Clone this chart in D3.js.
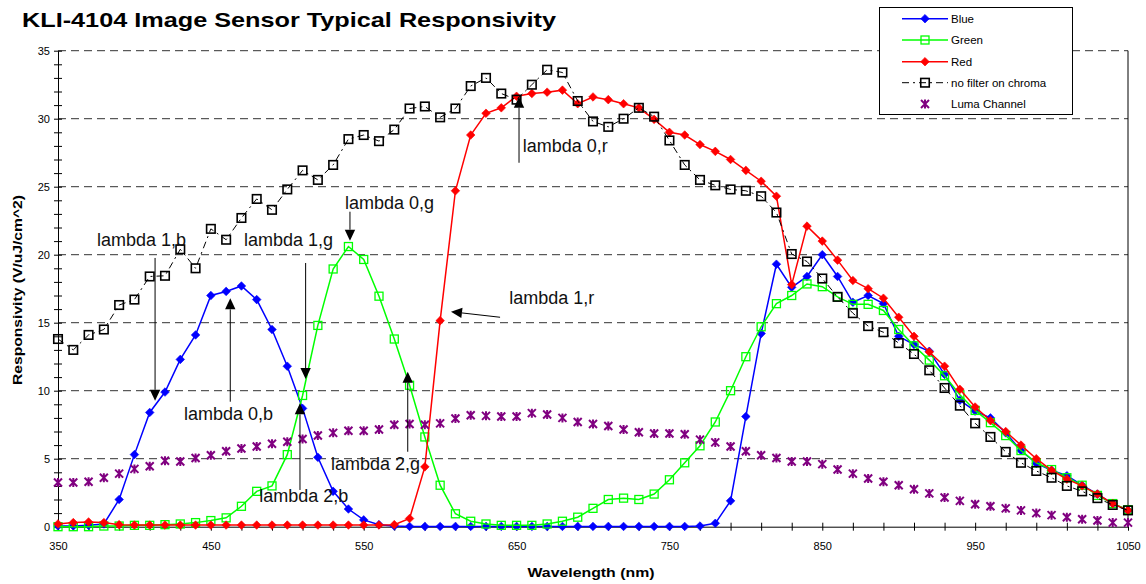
<!DOCTYPE html>
<html><head><meta charset="utf-8">
<script src="https://cdn.jsdelivr.net/npm/d3@7"></script>
<style>
html,body{margin:0;padding:0;background:#fff;}
svg{display:block;font-family:"Liberation Sans",Arial,sans-serif;}
</style></head>
<body><svg id="c" width="1146" height="584"></svg>
<script>
const wavelengths = d3.range(350, 1051, 10);
const blue = [0.05,0.05,0.1,0.2,2.0,5.3,8.4,9.9,12.3,14.1,17.0,17.3,17.7,16.7,14.5,11.8,8.7,5.1,2.6,1.3,0.5,0.15,0.05,0.02,
  0.02,0.02,0.02,0.02,0.02,0.02,0.02,0.02,0.02,0.02,0.02,0.02,0.02,0.02,0.02,0.02,0.02,0.02,
  0.05,0.25,1.9,8.1,14.2,19.3,17.6,18.4,20.0,18.4,16.5,17.0,16.4,14.0,13.4,12.9,11.2,9.3,8.5,8.0,6.9,5.6,4.65,4.15,3.75,3.05,2.4,1.7,1.2];
const green = [0,0,0,0.05,0.05,0.1,0.1,0.15,0.2,0.3,0.45,0.65,1.5,2.6,3.0,5.3,9.65,14.8,18.95,20.6,19.65,16.95,13.8,10.4,6.6,3.05,0.95,0.4,0.2,0.1,0.1,0.1,0.2,0.4,0.7,1.35,2.0,2.1,2.0,2.4,3.45,4.7,5.95,7.7,10.0,12.5,14.7,16.4,17.0,17.85,17.65,16.9,16.35,16.35,15.9,14.5,13.3,12.25,11.1,9.7,8.55,7.65,6.7,5.6,4.7,4.2,3.6,3.05,2.3,1.7,1.25];
const red = [0.2,0.3,0.35,0.3,0.15,0.12,
  0.12,0.12,0.12,0.12,0.12,0.12,0.12,0.12,0.12,0.12,0.12,0.12,0.12,0.12,0.12,0.12,
  0.15,0.6,4.4,15.15,24.7,28.8,30.4,30.8,31.65,31.85,31.95,32.1,31.1,31.6,31.4,31.1,30.8,29.95,29.0,28.8,28.1,27.6,27.0,26.2,25.4,24.3,17.8,22.1,21.0,19.6,18.1,17.5,16.8,15.4,14.0,12.85,11.8,10.1,8.8,7.8,7.0,6.0,5.0,4.15,3.5,3.0,2.4,1.7,1.2];
const noFilter = [13.8,13.0,14.1,14.5,16.3,16.7,18.4,18.45,20.4,19.0,21.9,21.1,22.7,24.1,23.3,24.8,26.2,25.5,26.6,28.5,28.8,28.35,29.2,30.75,30.9,30.1,30.75,32.4,33.0,31.85,31.4,32.5,33.6,33.4,31.3,29.8,29.4,30.0,30.8,30.15,28.4,26.6,25.5,25.1,24.8,24.7,24.3,23.1,20.05,19.5,18.25,16.9,15.7,14.75,14.3,13.5,12.7,11.5,10.2,8.9,7.6,6.6,5.5,4.7,4.1,3.6,3.0,2.6,2.1,1.6,1.2];
const luma = [3.25,3.25,3.3,3.6,3.9,4.25,4.45,4.85,4.8,5.05,5.25,5.55,5.75,5.9,6.1,6.25,6.45,6.7,6.9,7.05,7.05,7.15,7.5,7.55,7.5,7.6,7.95,8.2,8.15,8.1,8.1,8.35,8.25,8.0,7.7,7.55,7.4,7.15,6.95,6.85,6.85,6.8,6.4,6.2,5.9,5.55,5.25,5.05,4.8,4.8,4.6,4.2,3.9,3.55,3.3,3.05,2.75,2.45,2.15,1.9,1.65,1.5,1.35,1.2,1.0,0.85,0.7,0.55,0.45,0.3,0.3];
const xTickLabels = [350,450,550,650,750,850,950,1050];
const yTickLabels = [0,5,10,15,20,25,30,35];
const seriesNames = ["Blue","Green","Red","no filter on chroma","Luma Channel"];
// annotation labels: [text, wavelength, value(baseline)]
const annoLabels = [["lambda 1,b",375.5,20.64],["lambda 1,g",471.7,20.64],["lambda 0,g",537.8,23.35],["lambda 0,r",654,27.57],
  ["lambda 1,r",645.2,16.38],["lambda 0,b",432.4,7.85],["lambda 2,b",481.7,1.82],["lambda 2,g",528.6,4.17]];
// arrows: [fromWl, fromVal, tipWl, tipVal]
const annoArrows = [[413.5,19.76,413.5,9.26],[512.0,19.39,512.0,10.86],[462.7,9.19,462.7,16.79],[508.3,2.7,508.3,9.07],
  [541.0,23.16,541.0,21.03],[651.6,26.76,651.6,31.62],[578.8,5.51,578.8,11.40],[639.2,15.4,607.1,15.81]];

const svg = d3.select("#c");
const x = d3.scaleLinear().domain([350,1050]).range([58,1128]);
const y = d3.scaleLinear().domain([0,35]).range([526.7,50.7]);

// gridlines
svg.append("g").selectAll("line").data(yTickLabels.filter(d=>d>0)).join("line")
  .attr("x1",x(350)).attr("x2",x(1050)).attr("y1",d=>y(d)).attr("y2",d=>y(d))
  .attr("stroke","#333").attr("stroke-width",1).attr("stroke-dasharray","8,5");
// right border
svg.append("line").attr("x1",x(1050)).attr("x2",x(1050)).attr("y1",y(35)).attr("y2",y(0)).attr("stroke","#000");

// axes
const yAxis = d3.axisLeft(y).tickValues(d3.range(0,36,1)).tickSize(0)
  .tickFormat(d=> d%5===0 ? d : "");
const gy = svg.append("g").attr("transform",`translate(${x(350)},0)`).call(yAxis);
gy.select(".domain").attr("stroke","#000");
gy.selectAll(".tick line").attr("x1",-4).attr("x2",4).attr("stroke","#000");
gy.selectAll(".tick text").attr("x",-8).attr("font-size",11).attr("font-family","Liberation Sans, Arial").attr("fill","#000");

const xAxis = d3.axisBottom(x).tickValues(d3.range(350,1051,20)).tickSize(0)
  .tickFormat(d=> xTickLabels.includes(d) ? d : "");
const gx = svg.append("g").attr("transform",`translate(0,${y(0)})`).call(xAxis);
gx.select(".domain").attr("stroke","#000");
gx.selectAll(".tick line").attr("y1",-4).attr("y2",4).attr("stroke","#000");
gx.selectAll(".tick text").attr("y",16).attr("font-size",11).attr("font-family","Liberation Sans, Arial").attr("fill","#000");

// titles
svg.append("text").attr("x",22).attr("y",27).attr("font-size",21).attr("font-weight","bold")
  .attr("textLength",534).attr("lengthAdjust","spacingAndGlyphs").text("KLI-4104 Image Sensor Typical Responsivity");
svg.append("text").attr("transform","translate(22,290) rotate(-90)").attr("text-anchor","middle")
  .attr("font-size",13.5).attr("font-weight","bold").attr("textLength",190).attr("lengthAdjust","spacingAndGlyphs").text("Responsivity (V/uJ/cm^2)");
svg.append("text").attr("x",591).attr("y",577).attr("text-anchor","middle")
  .attr("font-size",13.5).attr("font-weight","bold").attr("textLength",127).attr("lengthAdjust","spacingAndGlyphs").text("Wavelength (nm)");

// marker drawing
function diamond(g,cx,cy,col){ const s=4.3;
  g.append("path").attr("d",`M${cx},${cy-s}L${cx+s},${cy}L${cx},${cy+s}L${cx-s},${cy}Z`).attr("fill",col).attr("stroke",col).attr("stroke-width",0.6);}
function square(g,cx,cy,col,sz,sw){ g.append("rect").attr("x",cx-sz/2).attr("y",cy-sz/2).attr("width",sz).attr("height",sz)
  .attr("fill","none").attr("stroke",col).attr("stroke-width",sw);}
function star(g,cx,cy,col){ const s=4;
  g.append("path").attr("d",`M${cx-s},${cy-s}L${cx+s},${cy+s}M${cx-s},${cy+s}L${cx+s},${cy-s}M${cx},${cy-s-0.5}L${cx},${cy+s+0.5}`)
   .attr("stroke",col).attr("stroke-width",2).attr("fill","none");}

const line = d3.line().x(d=>x(d[0])).y(d=>y(d[1]));
const series = [
  {name:seriesNames[0], vals:blue, col:"#0000FF", mk:"diamond", lw:1.5, dash:null},
  {name:seriesNames[1], vals:green, col:"#00FF00", mk:"square", lw:1.5, dash:null},
  {name:seriesNames[2], vals:red, col:"#FF0000", mk:"diamond", lw:1.5, dash:null},
  {name:seriesNames[3], vals:noFilter, col:"#000000", mk:"bsquare", lw:1, dash:"7,4,2,4"},
  {name:seriesNames[4], vals:luma, col:"#800080", mk:"star", lw:0, dash:null}
];
function mark(g,m,cx,cy,col){
  if(m==="diamond") diamond(g,cx,cy,col);
  else if(m==="square") square(g,cx,cy,col,8,1.3);
  else if(m==="bsquare") square(g,cx,cy,col,8.5,1.6);
  else star(g,cx,cy,col);
}
series.forEach(s=>{
  const g = svg.append("g");
  const pts = wavelengths.map((w,i)=>[w,s.vals[i]]);
  if(s.lw>0){
    const p = g.append("path").attr("d",line(pts)).attr("fill","none").attr("stroke",s.col).attr("stroke-width",s.lw);
    if(s.dash) p.attr("stroke-dasharray",s.dash);
  }
  pts.forEach(p=>mark(g,s.mk,x(p[0]),y(p[1]),s.col));
});

// annotations
const ga = svg.append("g");
annoLabels.forEach(a=>{
  ga.append("text").attr("x",x(a[1])).attr("y",y(a[2])).attr("font-size",18).attr("fill","#111").text(a[0]);
});
annoArrows.forEach(a=>{
  const x1=x(a[0]),y1=y(a[1]),x2=x(a[2]),y2=y(a[3]);
  const ang=Math.atan2(y2-y1,x2-x1), L=11, W=5.2;
  const bx=x2-L*Math.cos(ang), by=y2-L*Math.sin(ang);
  ga.append("line").attr("x1",x1).attr("y1",y1).attr("x2",bx).attr("y2",by).attr("stroke","#000").attr("stroke-width",1);
  const px=-Math.sin(ang)*W, py=Math.cos(ang)*W;
  ga.append("path").attr("d",`M${x2},${y2}L${bx+px},${by+py}L${bx-px},${by-py}Z`).attr("fill","#000");
});

// legend
const lg = svg.append("g");
lg.append("rect").attr("x",879.5).attr("y",7.5).attr("width",193).attr("height",107).attr("fill","#fff").attr("stroke","#000").attr("stroke-width",1);
const ly = [18.7,40,61.7,82.7,104];
series.forEach((s,i)=>{
  const yy=ly[i];
  if(s.lw>0){
    const l=lg.append("line").attr("x1",902).attr("x2",948).attr("y1",yy).attr("y2",yy).attr("stroke",s.col).attr("stroke-width",s.lw);
    if(s.dash) l.attr("stroke-dasharray",s.dash);
  }
  mark(lg,s.mk,925,yy,s.col);
  lg.append("text").attr("x",951).attr("y",yy+4).attr("font-size",11.5).attr("fill","#000").text(s.name);
});
</script></body></html>
